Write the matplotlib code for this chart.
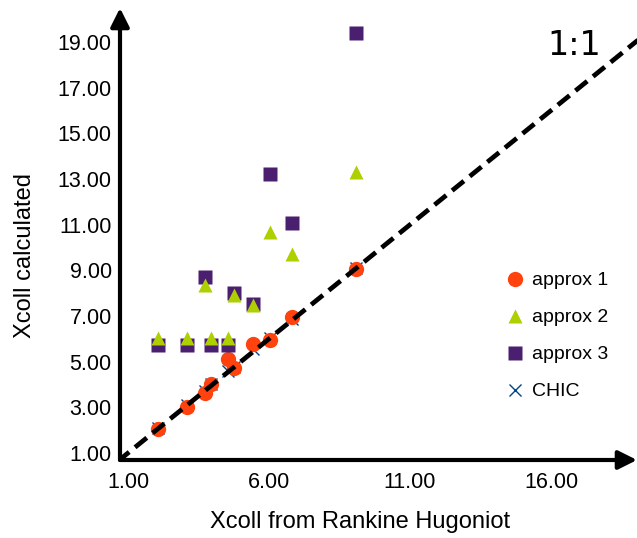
import matplotlib
matplotlib.use('Agg')
import matplotlib.pyplot as plt

# datos
x_rh = [2.05, 3.09, 3.73, 3.94, 4.55, 4.76, 5.43, 6.02, 6.81, 9.07]
approx1 = [2.04, 3.01, 3.61, 4.02, 5.12, 4.71, 5.77, 5.94, 6.96, 9.06]
approx2 = [6.02, 6.02, 8.36, 6.02, 6.02, 7.92, 7.48, 10.69, 9.70, 13.32]
approx3 = [5.73, 5.73, 8.71, 5.73, 5.73, 8.02, 7.51, 13.22, 11.09, 19.38]
chic = [2.08, 3.10, 3.70, 4.00, 4.60, 4.75, 5.55, 6.05, 6.85, 9.10]

x_ticks = [1, 6, 11, 16]
y_ticks = [1, 3, 5, 7, 9, 11, 13, 15, 17, 19]

x_min, x_max = 0.716, 19.05
y_min, y_max = 0.693, 20.49


def graficar():
    plt.rcParams['font.family'] = ['Liberation Sans', 'DejaVu Sans']

    fig = plt.figure(figsize=(6.37, 5.38), dpi=100)
    ax = fig.add_axes([120 / 637, 78 / 538, 517 / 637, 452 / 538])

    h_chic, = ax.plot(x_rh, chic, 'x', color='#004586', ms=9, mew=1, zorder=2, label='CHIC')
    h1, = ax.plot(x_rh, approx1, 'o', color='#ff420e', ms=11, mec='none', zorder=3, label='approx 1')
    h3, = ax.plot(x_rh, approx3, 's', color='#4b1f6f', ms=10, mec='none', zorder=4, label='approx 3')
    h2, = ax.plot(x_rh, approx2, '^', color='#aecf00', ms=10, mec='none', zorder=5, label='approx 2')

    # linea 1:1
    ax.plot([0, 25], [0, 25], color='black', lw=3.4, dashes=(3.2, 1.6), zorder=6)
    fig.text(574 / 637, 1 - 46 / 538, '1:1', fontsize=24, family='DejaVu Sans',
             ha='center', va='center')

    ax.set_xlim(x_min, x_max)
    ax.set_ylim(y_min, y_max)
    ax.set_xticks(x_ticks)
    ax.set_xticklabels(['%.2f' % v for v in x_ticks])
    ax.set_yticks(y_ticks)
    ax.set_yticklabels(['%.2f' % v for v in y_ticks])
    ax.tick_params(length=0, labelsize=15.5)
    ax.tick_params(axis='x', pad=9)
    ax.tick_params(axis='y', pad=6)

    for lado in ['top', 'right', 'left', 'bottom']:
        ax.spines[lado].set_visible(False)

    # ejes con flecha
    flecha = dict(arrowstyle='-|>', lw=3, color='black', mutation_scale=28,
                  shrinkA=0, shrinkB=0)
    ax.annotate('', xy=(1, 0), xytext=(0, 0), xycoords='axes fraction',
                arrowprops=flecha, annotation_clip=False)
    ax.annotate('', xy=(0, 1), xytext=(0, 0), xycoords='axes fraction',
                arrowprops=flecha, annotation_clip=False)

    fig.text(360 / 637, 1 - 522 / 538, 'Xcoll from Rankine Hugoniot', fontsize=17,
             ha='center', va='center')
    fig.text(25 / 637, 1 - 255 / 538, 'Xcoll calculated', fontsize=17,
             ha='center', va='center', rotation=90)

    ax.legend(handles=[h1, h2, h3, h_chic], loc='upper left',
              bbox_to_anchor=(497 / 637, 1 - 262 / 538), bbox_transform=fig.transFigure,
              frameon=False, fontsize=14, handlelength=0.8, handletextpad=0.5,
              labelspacing=1.0, borderpad=0)

    fig.savefig('out.png', dpi=100)


if __name__ == '__main__':
    graficar()
